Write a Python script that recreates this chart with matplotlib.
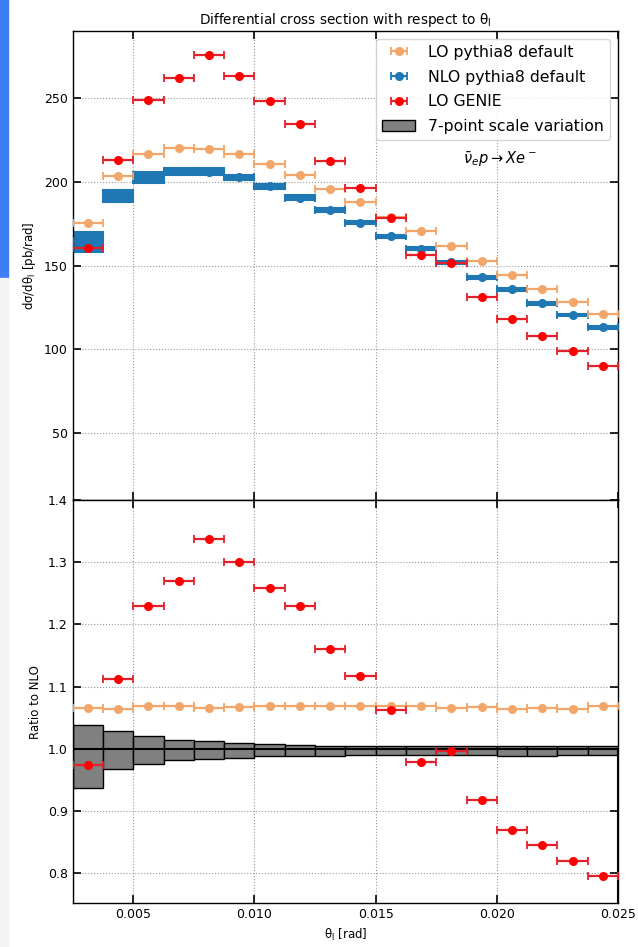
import numpy as np
import matplotlib
matplotlib.use("Agg")
import matplotlib.pyplot as plt
from matplotlib.patches import Rectangle, Patch

# ---------------- data ----------------
theta_edges = [0.0025, 0.00375, 0.005, 0.00625, 0.0075, 0.00875, 0.010, 0.01125,
               0.0125, 0.01375, 0.015, 0.01625, 0.0175, 0.01875, 0.020, 0.02125,
               0.0225, 0.02375, 0.025]

lo_pythia = [175.7, 203.8, 216.5, 220.5, 219.8, 216.5, 211.0, 203.9, 196.1,
             187.9, 179.3, 170.9, 161.9, 152.7, 144.7, 135.8, 128.3, 121.0]
nlo_pythia = [165.0, 191.6, 202.7, 206.4, 206.2, 202.8, 197.4, 190.7, 183.4,
              175.7, 167.7, 160.0, 152.0, 143.1, 135.9, 127.5, 120.5, 113.2]
lo_genie = [160.7, 213.1, 249.1, 262.1, 275.9, 263.6, 248.5, 234.4, 212.7,
            196.3, 178.3, 156.5, 151.4, 131.4, 118.2, 107.7, 98.8, 90.1]

# NLO scale-variation envelope as drawn in the upper panel
nlo_band_low = [158.3, 187.8, 199.7, 204.1, 204.0, 201.3, 196.1, 189.3, 182.2,
                174.7, 166.8, 159.1, 151.2, 142.3, 135.1, 126.7, 119.7, 112.4]
nlo_band_high = [170.2, 195.5, 205.7, 208.6, 208.4, 204.3, 198.7, 192.1, 184.7,
                 176.7, 168.6, 160.9, 152.8, 143.9, 136.7, 128.3, 121.3, 114.0]

# scale-variation envelope relative to NLO (lower panel)
scale_up = [1.039, 1.028, 1.021, 1.015, 1.012, 1.010, 1.008, 1.006, 1.005,
            1.005, 1.005, 1.005, 1.005, 1.005, 1.005, 1.005, 1.005, 1.005]
scale_down = [0.937, 0.967, 0.975, 0.982, 0.983, 0.985, 0.988, 0.988, 0.989,
              0.990, 0.990, 0.990, 0.990, 0.990, 0.988, 0.988, 0.990, 0.990]

# ---------------- derived ----------------
edges = np.array(theta_edges)
centers = 0.5 * (edges[:-1] + edges[1:])
halfw = 0.5 * np.diff(edges)
width = np.diff(edges)
lo_p = np.array(lo_pythia)
nlo = np.array(nlo_pythia)
gen = np.array(lo_genie)
b_lo = np.array(nlo_band_low)
b_hi = np.array(nlo_band_high)
up = np.array(scale_up)
dn = np.array(scale_down)

C_ORANGE = "#f2a66a"
C_BLUE = "#1f77b4"
C_RED = "#ff0000"
C_RED_LINE = "#e3202c"

plt.rcParams['font.family'] = ['DejaVu Sans']

fig = plt.figure(figsize=(6.38, 9.47), dpi=100)

# screenshot artifacts on the left edge
fig.patches.append(Rectangle((0, 1 - 278 / 947), 8 / 638, 278 / 947,
                             transform=fig.transFigure, color="#3d7ef5", zorder=0))
fig.patches.append(Rectangle((0, 0), 8 / 638, 1 - 278 / 947,
                             transform=fig.transFigure, color="#f3f3f3", zorder=0))

left, right = 72.7 / 638, 618 / 638
y_top1, y_mid, y_bot = 1 - 30.7 / 947, 1 - 500 / 947, 1 - 903.3 / 947
ax1 = fig.add_axes([left, y_mid, right - left, y_top1 - y_mid])
ax2 = fig.add_axes([left, y_bot, right - left, y_mid - y_bot], sharex=ax1)

ms = 5.5
ekw = dict(elinewidth=1.6, capsize=3, capthick=1.3, linestyle='none')

# ---------------- top panel ----------------
ax1.bar(centers, b_hi - b_lo, bottom=b_lo, width=width,
        color=C_BLUE, edgecolor=C_BLUE, linewidth=1.5, zorder=2)
h_nlo = ax1.errorbar(centers, nlo, xerr=halfw, fmt='o', color=C_BLUE, ms=ms,
                     zorder=3, **ekw)
h_lo = ax1.errorbar(centers, lo_p, xerr=halfw, fmt='o', color=C_ORANGE, ms=ms,
                    zorder=4, **ekw)
h_gen = ax1.errorbar(centers, gen, xerr=halfw, fmt='o', color=C_RED, ecolor=C_RED_LINE,
                     ms=ms, zorder=5, **ekw)
h_band = Patch(facecolor="gray", edgecolor="black", linewidth=1)

ax1.set_xlim(0.0025, 0.025)
ax1.set_ylim(10, 290.4)
ax1.set_yticks([50, 100, 150, 200, 250])
ax1.set_title(r"Differential cross section with respect to θ$_\mathregular{l}$",
              fontsize=9.8, pad=5)
ax1.set_ylabel(r"dσ/dθ$_\mathregular{l}$ [pb/rad]", fontsize=8.5)
leg = ax1.legend([h_lo, h_nlo, h_gen, h_band],
                 ["LO pythia8 default", "NLO pythia8 default", "LO GENIE",
                  "7-point scale variation"],
                 loc="upper right", fontsize=11.3, handlelength=2.1,
                 borderaxespad=0.5, labelspacing=0.62, handletextpad=0.8)
ax1.text(0.784, 0.725, r"$\bar{\nu}_e p \rightarrow X e^-$", transform=ax1.transAxes,
         ha="center", va="center", fontsize=10.5)
plt.setp(ax1.get_xticklabels(), visible=False)

# ---------------- ratio panel ----------------
ax2.bar(centers, up - dn, bottom=dn, width=width, color="gray",
        edgecolor="black", linewidth=1.0, zorder=2)
ax2.stairs(nlo / nlo, edges, color="black", linewidth=1.5, zorder=3)
ax2.errorbar(centers, lo_p / nlo, xerr=halfw, fmt='o', color=C_ORANGE, ms=ms,
             zorder=4, **ekw)
ax2.errorbar(centers, gen / nlo, xerr=halfw, fmt='o', color=C_RED, ecolor=C_RED_LINE,
             ms=ms, zorder=5, **ekw)
ax2.set_ylim(0.7517, 1.4)
ax2.set_yticks([0.8, 0.9, 1.0, 1.1, 1.2, 1.3, 1.4])
ax2.set_xticks([0.005, 0.010, 0.015, 0.020, 0.025])
ax2.set_xticklabels(["0.005", "0.010", "0.015", "0.020", "0.025"])
ax2.set_ylabel("Ratio to NLO", fontsize=8.5)
ax2.set_xlabel(r"θ$_\mathregular{l}$ [rad]", fontsize=8.5, labelpad=4)

for ax in (ax1, ax2):
    ax.grid(True, linestyle=":", color="gray", linewidth=0.8, alpha=0.8, zorder=0)
    ax.set_axisbelow(True)
    ax.tick_params(direction="in", top=True, right=True, labelsize=9,
                   length=6, width=1.2)
    for s in ax.spines.values():
        s.set_linewidth(1.0)

fig.savefig("out.png", dpi=100)
